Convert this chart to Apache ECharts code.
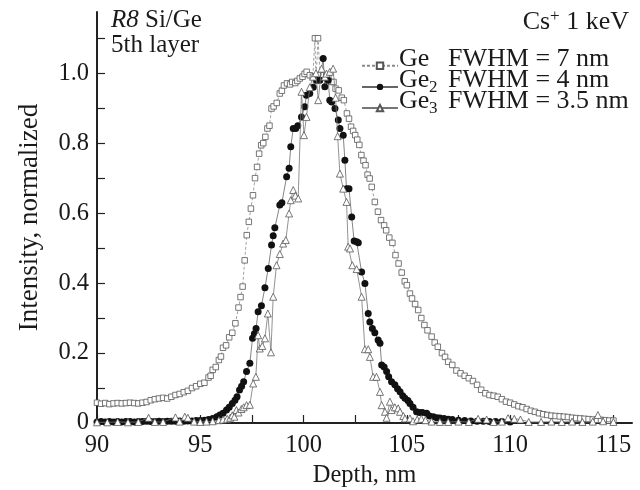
<!DOCTYPE html>
<html>
<head>
<meta charset="utf-8">
<script src="https://cdn.jsdelivr.net/npm/echarts@6/dist/echarts.min.js"></script>
<style>html,body{margin:0;padding:0;background:#fff}#c{width:640px;height:490px}</style>
</head>
<body>
<div id="c"></div>
<script>
// ---- data ----
const xTickLabels = [90, 95, 100, 105, 110, 115];
const xTicks = [90, 92.5, 95, 97.5, 100, 102.5, 105, 107.5, 110, 112.5, 115];
const yTickLabels = [0, 0.2, 0.4, 0.6, 0.8, 1.0];
const yTicks = [0, 0.1, 0.2, 0.3, 0.4, 0.5, 0.6, 0.7, 0.8, 0.9, 1.0, 1.1];

const geDepth = [90.0,90.2,90.4,90.6,90.8,91.0,91.2,91.4,91.6,91.8,92.0,92.2,92.4,92.6,92.8,93.0,93.2,93.4,93.6,93.8,94.0,94.2,94.4,94.6,94.8,95.0,95.2,95.4,95.5,95.6,95.75,95.9,96.0,96.1,96.25,96.4,96.55,96.7,96.85,96.95,97.05,97.15,97.25,97.35,97.45,97.55,97.65,97.75,97.85,97.95,98.05,98.15,98.25,98.35,98.45,98.55,98.7,98.85,98.95,99.05,99.2,99.35,99.45,99.6,99.7,99.82,99.95,100.05,100.15,100.3,100.45,100.55,100.6,100.7,100.8,100.95,101.1,101.2,101.35,101.45,101.55,101.7,101.85,101.95,102.1,102.2,102.3,102.4,102.5,102.6,102.7,102.8,102.9,103.0,103.1,103.2,103.3,103.45,103.6,103.75,103.9,104.0,104.15,104.3,104.45,104.6,104.75,104.9,105.0,105.15,105.25,105.4,105.55,105.7,105.85,106.0,106.2,106.35,106.5,106.7,106.85,107.0,107.2,107.4,107.6,107.8,108.0,108.2,108.4,108.6,108.8,109.0,109.2,109.4,109.6,109.8,110.0,110.2,110.4,110.6,110.8,111.0,111.2,111.4,111.6,111.8,112.0,112.2,112.4,112.6,112.8,113.0,113.2,113.4,113.6,113.8,114.0,114.2,114.4,114.6,114.8,115.0];
const geValue = [0.058,0.055,0.057,0.054,0.056,0.057,0.056,0.057,0.058,0.057,0.056,0.058,0.060,0.065,0.068,0.070,0.072,0.070,0.075,0.080,0.083,0.088,0.092,0.100,0.105,0.112,0.115,0.130,0.135,0.152,0.160,0.180,0.190,0.215,0.222,0.245,0.258,0.285,0.330,0.360,0.390,0.465,0.537,0.575,0.613,0.651,0.700,0.732,0.770,0.794,0.800,0.818,0.842,0.850,0.899,0.905,0.915,0.942,0.950,0.965,0.971,0.968,0.975,0.972,0.978,0.985,0.990,0.998,1.004,0.994,0.990,1.100,0.980,1.100,0.995,0.994,0.990,0.990,0.975,0.975,0.956,0.951,0.930,0.923,0.885,0.870,0.847,0.835,0.823,0.810,0.795,0.766,0.750,0.737,0.710,0.699,0.675,0.632,0.604,0.580,0.565,0.551,0.530,0.515,0.480,0.456,0.430,0.405,0.394,0.370,0.356,0.340,0.323,0.300,0.280,0.265,0.247,0.230,0.218,0.200,0.189,0.175,0.166,0.150,0.142,0.135,0.128,0.120,0.109,0.095,0.085,0.080,0.078,0.075,0.068,0.061,0.058,0.053,0.048,0.045,0.040,0.035,0.032,0.028,0.025,0.023,0.021,0.020,0.019,0.018,0.017,0.015,0.014,0.013,0.012,0.011,0.010,0.009,0.009,0.008,0.007,0.007];

const ge2Depth = [90.0,90.2,90.4,90.6,90.8,91.0,91.2,91.4,91.6,91.8,92.0,92.2,92.4,92.6,92.8,93.0,93.2,93.4,93.6,93.8,94.0,94.2,94.4,94.6,94.8,95.0,95.2,95.4,95.6,95.8,95.95,96.1,96.27,96.4,96.55,96.68,96.78,96.9,97.0,97.1,97.24,97.4,97.53,97.62,97.7,97.8,97.96,98.13,98.29,98.45,98.53,98.61,98.85,98.95,99.18,99.3,99.38,99.5,99.62,99.72,99.9,100.06,100.14,100.3,100.47,100.63,100.79,100.95,101.03,101.19,101.27,101.36,101.52,101.68,101.76,101.92,102.0,102.08,102.2,102.33,102.45,102.57,102.65,102.81,102.97,103.13,103.21,103.33,103.45,103.61,103.7,103.78,103.9,104.02,104.12,104.26,104.42,104.55,104.67,104.8,104.91,105.05,105.15,105.3,105.47,105.6,105.75,105.96,106.1,106.28,106.45,106.6,106.8,107.0,107.2,107.5,107.8,108.1,108.4,108.7,109.0,109.3,109.6,110.0];
const ge2Value = [0.003,0.004,0.003,0.004,0.003,0.004,0.003,0.004,0.004,0.003,0.004,0.004,0.005,0.004,0.004,0.005,0.004,0.005,0.005,0.005,0.006,0.005,0.006,0.006,0.007,0.007,0.008,0.010,0.013,0.018,0.023,0.028,0.037,0.045,0.056,0.065,0.075,0.094,0.105,0.118,0.147,0.171,0.242,0.255,0.270,0.318,0.335,0.387,0.442,0.509,0.535,0.558,0.623,0.630,0.704,0.728,0.790,0.842,0.842,0.850,0.875,0.904,0.937,0.942,0.960,0.980,0.980,1.042,0.961,0.980,0.923,0.918,0.899,0.866,0.842,0.823,0.751,0.670,0.670,0.589,0.520,0.518,0.515,0.432,0.399,0.313,0.289,0.270,0.258,0.237,0.228,0.166,0.160,0.147,0.132,0.118,0.109,0.098,0.089,0.078,0.071,0.064,0.056,0.045,0.032,0.030,0.030,0.028,0.020,0.018,0.015,0.014,0.013,0.011,0.010,0.008,0.007,0.006,0.005,0.005,0.004,0.004,0.004,0.003];

const ge3Depth = [90.0,90.5,91.0,91.5,92.0,92.5,92.8,93.2,93.8,94.0,94.25,94.4,94.7,95.0,95.3,95.6,95.9,96.1,96.3,96.45,96.55,96.65,96.75,96.85,96.99,97.1,97.24,97.4,97.56,97.69,97.8,97.88,98.0,98.13,98.27,98.42,98.53,98.69,98.85,99.01,99.14,99.3,99.38,99.5,99.6,99.74,99.9,100.02,100.14,100.3,100.46,100.6,100.71,100.87,101.03,101.11,101.27,101.43,101.55,101.65,101.76,101.92,102.08,102.16,102.25,102.36,102.57,102.81,102.97,103.13,103.21,103.37,103.53,103.7,103.78,103.94,104.02,104.18,104.26,104.42,104.58,104.67,104.83,104.91,105.15,105.3,105.5,105.7,105.9,106.2,106.6,107.0,107.5,108.0,108.45,108.86,109.2,109.6,109.9,110.2,110.5,110.9,111.5,112.0,112.5,113.0,113.5,114.0,114.25,114.5,115.0];
const ge3Value = [0.002,0.002,0.003,0.002,0.003,0.015,0.003,0.003,0.016,0.004,0.018,0.015,0.004,0.003,0.004,0.005,0.008,0.010,0.012,0.015,0.022,0.018,0.037,0.030,0.040,0.045,0.051,0.052,0.113,0.132,0.251,0.213,0.220,0.242,0.313,0.202,0.361,0.451,0.483,0.513,0.523,0.599,0.637,0.666,0.650,0.642,0.947,0.823,0.875,0.960,0.990,1.000,0.923,1.013,0.990,0.999,1.004,1.013,0.930,0.820,0.713,0.670,0.632,0.504,0.499,0.451,0.440,0.361,0.211,0.211,0.189,0.132,0.132,0.089,0.051,0.032,0.015,0.061,0.037,0.045,0.042,0.032,0.020,0.013,0.013,0.005,0.010,0.012,0.008,0.004,0.003,0.003,0.004,0.003,0.012,0.010,0.003,0.004,0.014,0.012,0.010,0.003,0.003,0.004,0.003,0.004,0.003,0.004,0.023,0.005,0.003];

const seriesNames = ['Ge', 'Ge2', 'Ge3'];
const legendBase = ['Ge', 'Ge', 'Ge'];
const legendSub = ['', '2', '3'];
const fwhmText = ['FWHM = 7 nm', 'FWHM = 4 nm', 'FWHM = 3.5 nm'];

// ---- chart ----
const zip = (xs, ys) => xs.map((x, i) => [x, ys[i]]);
const FONT = 'Liberation Serif';
const INK = '#1a1a1a';

// legend text built as graphic text next to the library's legend icons
const legendText = [];
seriesNames.forEach((n, i) => {
  const cy = 60 + i * 21;
  legendText.push({type: 'text', left: 399, top: cy - 14,
    style: {text: legendBase[i], fontFamily: FONT, fontSize: 26, fill: INK}});
  if (legendSub[i]) legendText.push({type: 'text', left: 429, top: cy - 2,
    style: {text: legendSub[i], fontFamily: FONT, fontSize: 17, fill: INK}});
  legendText.push({type: 'text', left: 448, top: cy - 14,
    style: {text: fwhmText[i], fontFamily: FONT, fontSize: 26, fill: INK}});
});

const chart = echarts.init(document.getElementById('c'), null, {renderer: 'canvas'});
chart.setOption({
  backgroundColor: '#fff',
  animation: false,
  textStyle: {fontFamily: FONT},
  title: [
    {
      text: '{i|R8}{m| Si/Ge}\n{m|5th layer}',
      left: 106, top: 3,
      textStyle: {
        fontFamily: FONT, fontSize: 25, fontWeight: 'normal', color: INK, lineHeight: 25,
        rich: {
          i: {fontFamily: FONT, fontSize: 25, fontStyle: 'italic', color: INK, lineHeight: 25},
          m: {fontFamily: FONT, fontSize: 25, color: INK, lineHeight: 25}
        }
      }
    },
    {
      text: '{m|Cs}{sup|+}{m| 1 keV}',
      right: 6, top: 3,
      textStyle: {
        fontFamily: FONT, fontSize: 26, fontWeight: 'normal', color: INK,
        rich: {
          m: {fontFamily: FONT, fontSize: 26, color: INK, lineHeight: 27, verticalAlign: 'bottom'},
          sup: {fontFamily: FONT, fontSize: 17, color: INK, lineHeight: 17, verticalAlign: 'top'}
        }
      }
    }
  ],
  legend: {
    orient: 'vertical',
    left: 356, top: 56.5,
    itemWidth: 36, itemHeight: 8,
    itemGap: 13,
    data: seriesNames,
    formatter: () => ' ',
    textStyle: {fontFamily: FONT, fontSize: 8, lineHeight: 8, color: INK}
  },
  graphic: legendText,
  grid: {left: 97, right: 8, top: 12, bottom: 67, containLabel: false, outerBoundsMode: 'none'},
  xAxis: {
    type: 'value', min: 90, max: 115.9,
    name: 'Depth, nm', nameLocation: 'middle', nameGap: 33,
    nameTextStyle: {fontFamily: FONT, fontSize: 24.5, color: INK},
    axisLine: {show: true, lineStyle: {color: '#222', width: 2}},
    axisTick: {show: true, inside: true, length: 8, lineStyle: {color: '#222', width: 1.2}, customValues: xTicks},
    axisLabel: {show: true, margin: 10, fontFamily: FONT, fontSize: 24.5, color: INK, customValues: xTickLabels,
      formatter: v => String(v)},
    splitLine: {show: false}
  },
  yAxis: {
    type: 'value', min: 0, max: 1.175,
    name: 'Intensity, normalized', nameLocation: 'middle', nameGap: 54, nameRotate: 90,
    nameTextStyle: {fontFamily: FONT, fontSize: 27, color: INK},
    axisLine: {show: true, lineStyle: {color: '#222', width: 2}},
    axisTick: {show: true, inside: true, length: 8, lineStyle: {color: '#222', width: 1.2}, customValues: yTicks},
    axisLabel: {show: true, margin: 8, fontFamily: FONT, fontSize: 24.5, color: INK, customValues: yTickLabels,
      padding: [5, 0, 0, 0],
      formatter: v => (v === 0 ? '0' : v.toFixed(1))},
    splitLine: {show: false}
  },
  series: [
    {
      name: 'Ge', type: 'line', data: zip(geDepth, geValue),
      symbol: 'rect', symbolSize: 5.5, showAllSymbol: true,
      lineStyle: {color: '#8a8a8a', width: 0.8, type: [3, 2]},
      itemStyle: {color: '#fff', borderColor: '#555', borderWidth: 0.8},
      z: 2
    },
    {
      name: 'Ge2', type: 'line', data: zip(ge2Depth, ge2Value),
      symbol: 'circle', symbolSize: 7, showAllSymbol: true,
      lineStyle: {color: '#666', width: 0.8},
      itemStyle: {color: '#111', borderColor: '#111', borderWidth: 0},
      z: 3
    },
    {
      name: 'Ge3', type: 'line', data: zip(ge3Depth, ge3Value),
      symbol: 'triangle', symbolSize: 7, showAllSymbol: true,
      lineStyle: {color: '#777', width: 0.8},
      itemStyle: {color: '#fff', borderColor: '#555', borderWidth: 0.8},
      z: 4
    }
  ]
});
</script>
</body>
</html>
